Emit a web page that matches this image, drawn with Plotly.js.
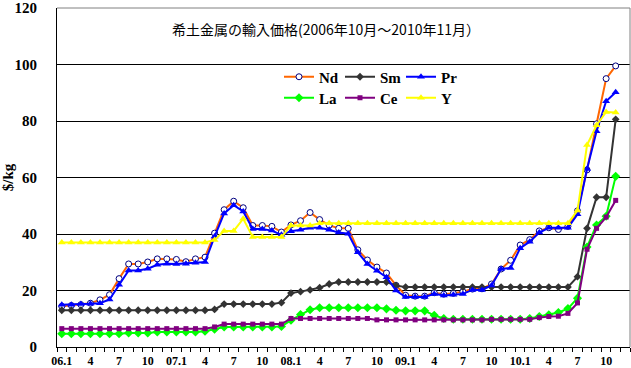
<!DOCTYPE html>
<html>
<head>
<meta charset="utf-8">
<script src="https://cdn.plot.ly/plotly-3.0.1.min.js"></script>
<style>html,body{margin:0;padding:0;background:#fff;}#chart{width:631px;height:368px;}</style>
</head>
<body>
<div id="chart"></div>
<script>
const months = ['06.1','06.2','06.3','06.4','06.5','06.6','06.7','06.8','06.9','06.10','06.11','06.12',
  '07.1','07.2','07.3','07.4','07.5','07.6','07.7','07.8','07.9','07.10','07.11','07.12',
  '08.1','08.2','08.3','08.4','08.5','08.6','08.7','08.8','08.9','08.10','08.11','08.12',
  '09.1','09.2','09.3','09.4','09.5','09.6','09.7','09.8','09.9','09.10','09.11','09.12',
  '10.1','10.2','10.3','10.4','10.5','10.6','10.7','10.8','10.9','10.10','10.11'];
const tickLabels = ['06.1','4','7','10','07.1','4','7','10','08.1','4','7','10','09.1','4','7','10','10.1','4','7','10'];

const Nd = [14.4,14.7,15.0,15.5,16.7,18.5,24.2,29.4,29.4,30.1,31.2,31.2,
  31.0,30.2,31.2,31.8,40.3,48.6,51.6,49.3,43.0,43.0,42.7,40.7,
  43.2,44.7,47.6,45.1,43.1,42.0,42.0,34.4,30.8,28.3,26.2,21.8,
  18.3,18.0,18.0,19.2,18.7,19.0,19.6,20.5,20.6,22.3,27.6,30.7,
  36.1,38.0,41.1,42.2,41.6,42.7,48.2,62.7,79.0,95.0,99.5];
const Sm = [13.0,13.0,13.0,13.0,13.0,13.0,13.0,13.0,13.0,13.0,13.0,13.0,
  13.0,13.0,13.0,13.0,13.3,15.2,15.2,15.2,15.2,15.2,15.2,15.7,
  19.1,19.6,20.2,21.0,22.3,23.0,23.0,23.0,23.0,23.0,23.0,21.8,
  21.2,21.2,21.2,21.2,21.2,21.2,21.2,21.2,21.2,21.2,21.2,21.2,
  21.2,21.2,21.2,21.2,21.2,21.2,24.9,42.0,53.0,53.0,80.6];
const Pr = [15.0,15.0,15.2,15.3,15.5,16.8,22.0,27.1,27.1,27.7,29.1,29.5,
  29.4,29.5,29.8,30.1,39.1,47.3,50.2,48.0,41.8,41.8,41.2,39.7,
  41.0,41.5,42.2,42.2,41.5,40.5,40.1,33.5,29.4,27.0,24.7,20.0,
  17.7,17.7,17.7,18.8,18.2,18.5,18.8,20.2,20.2,21.8,27.6,28.0,
  35.0,37.3,40.5,42.2,42.2,42.2,47.0,63.0,76.4,87.0,90.2];
const La = [4.7,4.7,4.7,4.7,4.7,4.7,4.7,5.0,5.0,5.0,5.3,5.3,
  5.3,5.3,5.3,5.6,6.3,7.1,7.1,7.1,7.1,7.1,7.1,7.3,
  9.5,11.5,13.2,13.9,13.9,13.9,13.9,13.9,13.9,13.9,13.5,13.0,
  12.8,12.8,12.8,11.2,10.1,9.8,9.8,9.8,9.8,9.8,9.8,9.8,
  9.8,10.1,10.8,11.4,12.2,13.6,17.3,35.4,43.2,46.3,60.4];
const Ce = [6.5,6.5,6.5,6.5,6.5,6.5,6.5,6.5,6.5,6.5,6.5,6.5,
  6.5,6.5,6.5,6.5,7.1,8.1,8.1,8.1,8.1,8.1,8.1,8.1,
  10.1,10.1,10.1,10.1,10.1,10.1,10.1,10.1,10.1,9.6,9.6,9.6,
  9.6,9.6,9.6,9.6,9.6,9.6,9.6,9.6,9.6,9.8,9.8,9.8,
  9.8,9.8,10.4,10.8,10.9,11.9,15.6,34.6,42.0,46.0,51.9];
const Yt = [37.0,37.0,37.0,37.0,37.0,37.0,37.0,37.0,37.0,37.0,37.0,37.0,
  37.0,37.0,37.0,37.0,37.9,41.1,41.1,45.4,38.9,38.9,38.9,38.9,
  43.0,43.0,43.0,43.8,43.8,43.8,43.8,43.8,43.8,43.8,43.8,43.8,
  43.8,43.8,43.8,43.8,43.8,43.8,43.8,43.8,43.8,43.8,43.8,43.8,
  43.8,43.8,43.8,43.8,43.8,43.8,48.3,71.5,78.5,83.2,83.0];

const xIdx = months.map((m, i) => i);
const tickPos = tickLabels.map((t, i) => i * 3);

const serif = 'Liberation Serif, DejaVu Serif, serif';
function tr(name, y, color, marker, legend) {
  return {type:'scatter', mode:'lines+markers', name:name, x:xIdx, y:y, legend:legend,
    line:{color:color, width:2}, marker:marker, hoverinfo:'skip'};
}
const data = [
  tr('Nd', Nd, '#FF6600', {symbol:'circle', size:6, color:'#ffffff', line:{color:'#000080', width:1}}, 'legend'),
  tr('Sm', Sm, '#333333', {symbol:'diamond', size:6, color:'#333333'}, 'legend2'),
  tr('Pr', Pr, '#0000FF', {symbol:'triangle-up', size:7, color:'#0000FF'}, 'legend3'),
  tr('La', La, '#00FF00', {symbol:'diamond', size:7, color:'#00FF00'}, 'legend4'),
  tr('Ce', Ce, '#800080', {symbol:'square', size:5, color:'#800080'}, 'legend5'),
  tr('Y', Yt, '#FFFF00', {symbol:'triangle-up', size:7, color:'#FFFF00'}, 'legend6')
];

const L = 57, R = 630, T = 8, B = 347;
const pw = R - L, ph = B - T;
function lg(px, py) {
  return {x:(px - L)/pw, y:(B - py)/ph, xanchor:'left', yanchor:'middle', bgcolor:'rgba(0,0,0,0)',
    borderwidth:0, font:{family:serif, size:15, color:'#000', weight:'bold'}, itemwidth:30};
}
const row1 = 77, row2 = 98;
const layout = {
  width:631, height:368,
  margin:{l:L, r:631-R, t:T, b:368-B, pad:0},
  paper_bgcolor:'#fff', plot_bgcolor:'#fff',
  title:{text:'希土金属の輸入価格(2006年10月～2010年11月）', xref:'container', yref:'container',
    x:326/631, y:1-30/368, xanchor:'center', yanchor:'middle',
    font:{family:'Noto Sans CJK JP', size:14, color:'#000'}},
  xaxis:{range:[-0.5, 59.5], showgrid:false, zeroline:false, showline:true, linecolor:'#000', linewidth:1,
    tickmode:'array', tickvals:tickPos, ticktext:tickLabels, ticks:'', ticklabelstandoff:3,
    ticklabeloverflow:'allow',
    tickfont:{family:serif, size:12, color:'#000', weight:'bold'},
    minor:{ticks:'outside', tick0:-0.5, dtick:1, ticklen:4, tickcolor:'#000', tickwidth:1, showgrid:false},
    fixedrange:true},
  yaxis:{range:[0,120], tickmode:'array', tickvals:[0,20,40,60,80,100,120], showgrid:true, gridcolor:'#000', gridwidth:1,
    zeroline:false, showline:true, linecolor:'#000', linewidth:1, ticks:'', ticklabelstandoff:16,
    ticklabeloverflow:'allow',
    tickfont:{family:serif, size:15, color:'#000', weight:'bold'},
    title:{text:'$/kg', standoff:2, font:{family:serif, size:15, color:'#000', weight:'bold'}},
    automargin:false, fixedrange:true},
  shapes:[
    {type:'line', xref:'paper', yref:'paper', x0:0, x1:1, y0:1, y1:1, line:{color:'#808080', width:1}, layer:'above'},
    {type:'line', xref:'paper', yref:'paper', x0:1, x1:1, y0:0, y1:1, line:{color:'#808080', width:1}, layer:'above'}
  ],
  legend:lg(279, row1), legend2:lg(340, row1), legend3:lg(401, row1),
  legend4:lg(279, row2), legend5:lg(340, row2), legend6:lg(401, row2),
  showlegend:true
};
Plotly.newPlot('chart', data, layout, {displayModeBar:false, staticPlot:true});
</script>
</body>
</html>
